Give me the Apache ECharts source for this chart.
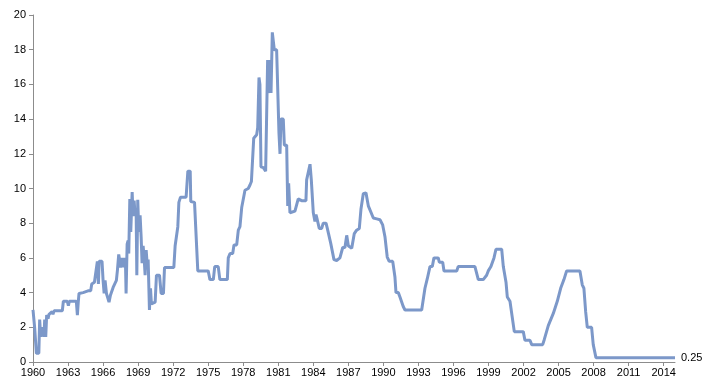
<!DOCTYPE html>
<html><head><meta charset="utf-8">
<script src="https://cdn.jsdelivr.net/npm/echarts@6/dist/echarts.min.js"></script>
<style>html,body{margin:0;padding:0;background:#fff}#c{width:710px;height:388px}</style>
</head><body><div id="c"></div>
<script>
const baseYear = 1960;
const years = [1960.00,1960.14,1960.23,1960.29,1960.50,1960.57,1960.66,1960.80,1960.94,1961.00,1961.09,1961.17,1961.29,1961.37,1961.49,1961.63,1961.71,1961.80,1962.51,1962.60,1962.94,1963.03,1963.11,1963.71,1963.80,1963.88,1963.94,1964.29,1964.43,1964.71,1964.80,1964.94,1965.03,1965.26,1965.40,1965.51,1965.60,1965.66,1965.91,1966.00,1966.09,1966.17,1966.29,1966.40,1966.51,1966.63,1966.77,1966.86,1967.00,1967.14,1967.23,1967.34,1967.40,1967.49,1967.60,1967.69,1967.77,1967.84,1967.91,1967.97,1968.06,1968.14,1968.20,1968.29,1968.37,1968.49,1968.57,1968.66,1968.74,1968.83,1968.89,1968.97,1969.06,1969.17,1969.26,1969.34,1969.43,1969.51,1969.60,1969.69,1969.77,1969.86,1969.97,1970.06,1970.14,1970.20,1970.46,1970.57,1970.83,1970.97,1971.17,1971.26,1972.06,1972.17,1972.31,1972.40,1972.49,1972.63,1973.11,1973.26,1973.46,1973.51,1973.83,1974.11,1975.00,1975.15,1975.44,1975.56,1975.86,1976.00,1976.64,1976.72,1976.87,1977.10,1977.21,1977.44,1977.58,1977.72,1977.87,1978.00,1978.15,1978.43,1978.58,1978.70,1978.90,1979.15,1979.24,1979.35,1979.43,1979.52,1979.72,1979.92,1980.09,1980.23,1980.29,1980.38,1980.49,1980.57,1980.66,1980.86,1981.06,1981.15,1981.23,1981.43,1981.52,1981.72,1981.81,1981.89,1982.00,1982.15,1982.43,1982.71,1983.00,1983.37,1983.43,1983.60,1983.72,1983.83,1984.00,1984.14,1984.23,1984.34,1984.51,1984.72,1984.85,1985.09,1985.20,1985.37,1985.49,1985.63,1985.77,1986.00,1986.28,1986.43,1986.52,1986.71,1986.86,1987.00,1987.29,1987.51,1987.71,1987.94,1988.08,1988.28,1988.51,1988.71,1988.85,1989.14,1989.43,1989.71,1989.94,1990.14,1990.33,1990.50,1990.80,1990.99,1991.08,1991.28,1991.42,1991.57,1991.70,1991.85,1993.28,1993.56,1993.76,1993.99,1994.19,1994.33,1994.70,1994.79,1995.08,1995.19,1996.28,1996.41,1997.84,1998.13,1998.55,1998.84,1998.98,1999.21,1999.47,1999.64,2000.13,2000.27,2000.50,2000.61,2000.84,2001.21,2001.98,2002.12,2002.55,2002.70,2003.64,2003.78,2004.12,2004.55,2004.89,2005.18,2005.46,2005.69,2006.83,2007.03,2007.17,2007.32,2007.46,2007.83,2007.97,2008.20,2014.97];
const rates = [3.0,2.0,1.9,0.5,0.5,2.45,1.45,2.0,1.45,2.45,1.45,2.7,2.5,2.75,2.7,2.9,2.75,2.95,2.95,3.5,3.5,3.25,3.5,3.5,2.7,3.5,3.95,4.0,4.1,4.1,4.0,4.1,4.5,4.6,4.6,5.8,4.5,5.8,5.8,4.7,3.95,4.7,3.95,4.0,3.45,3.85,3.75,4.3,4.5,4.7,5.3,6.2,5.95,5.45,6.0,5.45,6.0,5.45,6.0,3.95,6.8,7.0,6.25,9.4,7.5,9.8,8.4,9.3,8.45,8.75,5.0,9.35,7.5,8.45,7.2,5.7,6.7,6.05,5.0,6.45,5.7,5.9,3.0,4.25,3.35,3.45,3.45,5.0,5.0,3.95,3.95,5.45,5.45,6.7,6.8,7.8,9.2,9.5,9.5,11.0,11.0,9.25,9.2,5.25,5.25,4.75,4.75,5.5,5.5,4.75,4.75,6.0,6.25,6.25,6.75,6.75,7.6,7.8,8.9,9.0,9.9,10.0,10.2,10.4,12.9,13.1,13.5,16.4,16.0,11.25,11.2,11.0,17.4,15.5,17.4,15.5,19.0,19.0,18.0,18.0,13.2,12.0,14.0,14.0,12.5,12.5,9.0,10.3,8.6,8.5,8.7,9.4,9.3,9.3,10.5,10.5,11.4,10.5,8.6,8.1,8.5,8.2,7.7,7.7,8.0,8.0,7.7,7.7,6.85,6.85,5.9,5.85,6.0,6.0,6.6,6.6,7.3,6.7,6.55,7.4,7.6,7.7,8.8,9.7,9.75,9.0,8.9,8.3,8.25,8.2,7.9,7.2,6.05,5.8,5.8,4.9,4.0,4.0,3.75,3.7,3.2,3.0,3.0,4.25,4.8,5.5,5.5,6.0,6.0,5.75,5.75,5.25,5.25,5.5,5.5,4.75,4.75,5.0,5.25,5.5,6.0,6.5,6.5,5.5,4.6,3.75,3.5,1.75,1.75,1.25,1.25,1.0,1.0,1.3,2.1,2.8,3.5,4.25,4.75,5.25,5.25,4.45,4.25,2.9,2.0,2.0,1.0,0.25,0.25];
const endLabelText = '0.25';

const seriesData = years.map((y, i) => [y - baseYear, rates[i]]);
const chart = echarts.init(document.getElementById('c'), null, {renderer: 'canvas'});
const axisColor = '#8c8c8c';
const font = {fontFamily: 'Liberation Sans, Arial, sans-serif', fontSize: 11, color: '#000'};
chart.setOption({
  animation: false,
  backgroundColor: '#fff',
  grid: {left: 33, right: 35, top: 15, bottom: 26, containLabel: false},
  xAxis: {
    type: 'value', min: 0, max: years[years.length - 1] - baseYear, interval: 3,
    axisLine: {show: true, lineStyle: {color: axisColor, width: 1}},
    axisTick: {show: true, length: 4, lineStyle: {color: axisColor}},
    splitLine: {show: false},
    axisLabel: Object.assign({margin: 5, showMaxLabel: false, formatter: v => String(Math.round(v + baseYear))}, font)
  },
  yAxis: {
    type: 'value', min: 0, max: 20, interval: 2,
    axisLine: {show: true, lineStyle: {color: axisColor, width: 1}},
    axisTick: {show: true, length: 4, lineStyle: {color: axisColor}},
    splitLine: {show: false},
    axisLabel: Object.assign({margin: 7}, font)
  },
  series: [{
    type: 'line', data: seriesData, showSymbol: false, smooth: false,
    lineStyle: {color: '#7c98c9', width: 3},
    itemStyle: {color: '#7c98c9'},
    endLabel: Object.assign({show: true, formatter: endLabelText, distance: 6}, font)
  }]
});
</script></body></html>
